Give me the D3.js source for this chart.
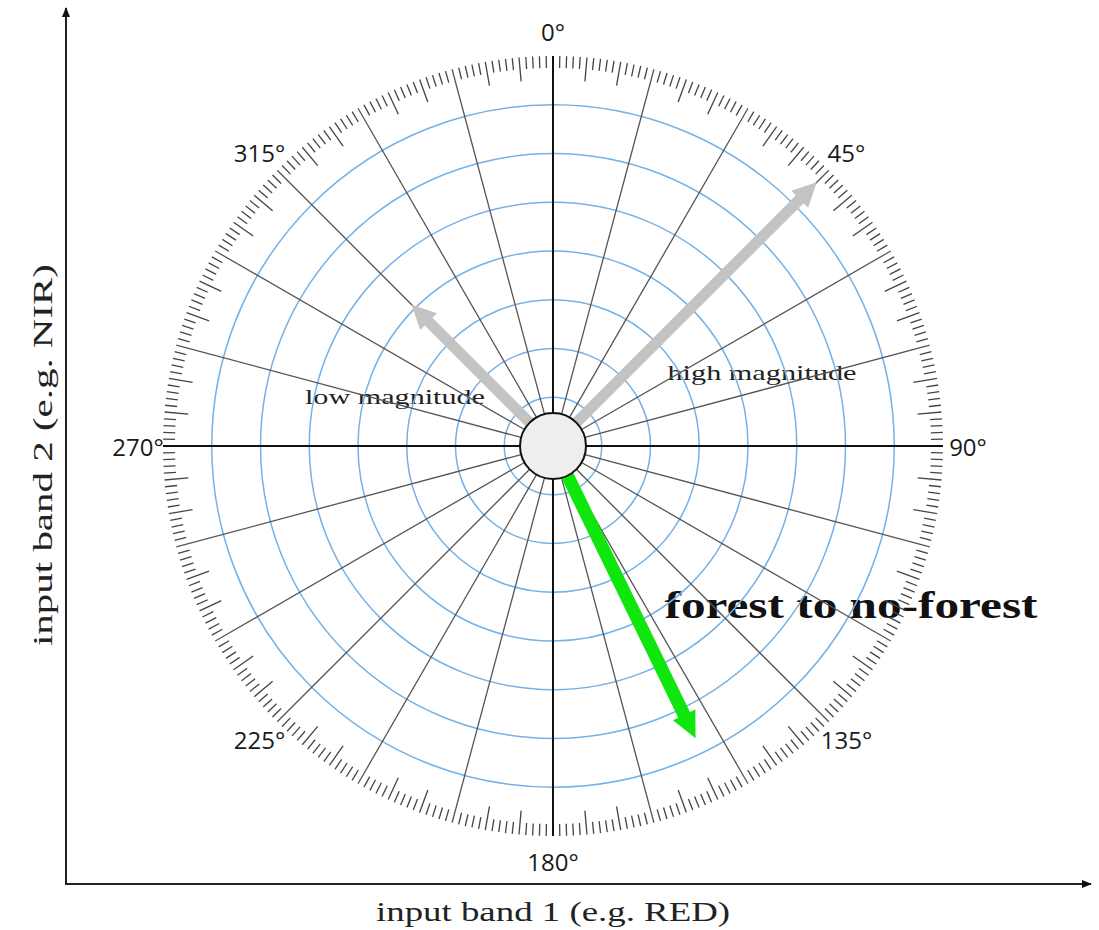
<!DOCTYPE html>
<html>
<head>
<meta charset="utf-8">
<script src="https://cdn.jsdelivr.net/npm/d3@7"></script>
<style>
  html, body { margin: 0; padding: 0; background: #ffffff; }
  svg { display: block; }
</style>
</head>
<body>
<svg id="chart" width="1099" height="930"></svg>
<script>
// ---- data ----
const angleLabels = [0, 45, 90, 135, 180, 225, 270, 315];
const ringValues = [1, 2, 3, 4, 5, 6, 7];
const spokeAngles = d3.range(0, 360, 15);
const tickAngles = d3.range(0, 360, 1);
const arrowNames = ["high magnitude", "low magnitude", "forest to no-forest"];
const arrowAngles = [45, 315, 154];
const arrowMagnitudes = [7.65, 4.1, 6.67];
const arrowColors = ["#c3c3c3", "#c3c3c3", "#0ee60e"];
const xAxisLabel = "input band 1 (e.g. RED)";
const yAxisLabel = "input band 2 (e.g. NIR)";

// ---- layout ----
const svg = d3.select("#chart");
const cx = 553, cy = 446;
const rScale = d3.scaleLinear().domain([0, 8]).range([0, 390]);
const R = rScale(8);
const hubR = 33;
const pt = (a, r) => [cx + r * Math.sin(a * Math.PI / 180), cy - r * Math.cos(a * Math.PI / 180)];

const defs = svg.append("defs");
defs.append("marker").attr("id", "axhead").attr("viewBox", "0 0 10 10")
  .attr("refX", 9).attr("refY", 5).attr("markerWidth", 10).attr("markerHeight", 10)
  .attr("markerUnits", "userSpaceOnUse").attr("orient", "auto")
  .append("path").attr("d", "M0,1 L10,5 L0,9 Z").attr("fill", "#111");

// ---- axes of the frame ----
const ox = 66, oy = 884;
svg.append("line").attr("x1", ox).attr("y1", oy + 1).attr("x2", ox).attr("y2", 8)
  .attr("stroke", "#222").attr("stroke-width", 2).attr("marker-end", "url(#axhead)");
svg.append("line").attr("x1", ox - 1).attr("y1", oy).attr("x2", 1091).attr("y2", oy)
  .attr("stroke", "#222").attr("stroke-width", 2).attr("marker-end", "url(#axhead)");

const serif = "'Liberation Serif', 'DejaVu Serif', serif";
svg.append("text").text(xAxisLabel)
  .attr("x", 553).attr("y", 911).attr("text-anchor", "middle").attr("dominant-baseline", "central")
  .attr("font-family", serif).attr("font-size", 28)
  .attr("textLength", 354).attr("lengthAdjust", "spacingAndGlyphs").attr("fill", "#222");
svg.append("text").text(yAxisLabel)
  .attr("transform", "translate(42,455) rotate(-90)")
  .attr("text-anchor", "middle").attr("dominant-baseline", "central")
  .attr("font-family", serif).attr("font-size", 28)
  .attr("textLength", 382).attr("lengthAdjust", "spacingAndGlyphs").attr("fill", "#222");

// ---- annotation texts (under the grid lines) ----
svg.append("text").text(arrowNames[1])
  .attr("x", 395).attr("y", 396).attr("text-anchor", "middle").attr("dominant-baseline", "central")
  .attr("font-family", serif).attr("font-size", 22).attr("fill", "#222")
  .attr("textLength", 180).attr("lengthAdjust", "spacingAndGlyphs");
svg.append("text").text(arrowNames[0])
  .attr("x", 762).attr("y", 372).attr("text-anchor", "middle").attr("dominant-baseline", "central")
  .attr("font-family", serif).attr("font-size", 22).attr("fill", "#222")
  .attr("textLength", 189).attr("lengthAdjust", "spacingAndGlyphs");
svg.append("text").text(arrowNames[2])
  .attr("x", 851).attr("y", 605).attr("text-anchor", "middle").attr("dominant-baseline", "central")
  .attr("font-family", serif).attr("font-size", 37).attr("font-weight", "bold").attr("fill", "#111")
  .attr("textLength", 373).attr("lengthAdjust", "spacingAndGlyphs");

// ---- rings ----
svg.append("g").selectAll("circle").data(ringValues).join("circle")
  .attr("cx", cx).attr("cy", cy).attr("r", d => rScale(d))
  .attr("fill", "none").attr("stroke", "#74b1e6").attr("stroke-width", 1.5);

// ---- spokes ----
svg.append("g").selectAll("line").data(spokeAngles).join("line")
  .attr("x1", d => pt(d, hubR)[0]).attr("y1", d => pt(d, hubR)[1])
  .attr("x2", d => pt(d, R)[0]).attr("y2", d => pt(d, R)[1])
  .attr("stroke", d => d % 90 === 0 ? "#111" : "#555")
  .attr("stroke-width", d => d % 90 === 0 ? 2 : 1.3);

// ---- degree ticks ----
svg.append("g").selectAll("line").data(tickAngles.filter(d => d % 15 !== 0)).join("line")
  .attr("x1", d => pt(d, R)[0]).attr("y1", d => pt(d, R)[1])
  .attr("x2", d => pt(d, R - (d % 5 === 0 ? 24 : 12))[0])
  .attr("y2", d => pt(d, R - (d % 5 === 0 ? 24 : 12))[1])
  .attr("stroke", "#444").attr("stroke-width", 1.3);

// ---- arrows ----
const arrows = arrowAngles.map((a, i) => ({ a, m: arrowMagnitudes[i], c: arrowColors[i], green: i === 2 }));
svg.append("g").selectAll("path").data(arrows).join("path")
  .attr("transform", d => `translate(${cx},${cy}) rotate(${d.a})`)
  .attr("d", d => {
    const r0 = 28, r1 = rScale(d.m);
    const sw = d.green ? 6.5 : 5.5, hw = d.green ? 12.5 : 12, hl = d.green ? 26 : 24;
    return `M${-sw},${-r0} L${-sw},${-(r1 - hl)} L${-hw},${-(r1 - hl)} L0,${-r1} L${hw},${-(r1 - hl)} L${sw},${-(r1 - hl)} L${sw},${-r0} Z`;
  })
  .attr("fill", d => d.c);

// ---- hub ----
svg.append("circle").attr("cx", cx).attr("cy", cy).attr("r", hubR)
  .attr("fill", "#eeeeee").attr("stroke", "#111").attr("stroke-width", 2);

// ---- degree labels ----
svg.append("g").selectAll("text").data(angleLabels).join("text")
  .attr("x", d => pt(d, 415)[0]).attr("y", d => pt(d, 415)[1])
  .attr("text-anchor", "middle").attr("dominant-baseline", "central")
  .attr("font-family", "'Open Sans', 'Noto Sans', sans-serif").attr("font-size", 24)
  .attr("fill", "#1a1a1a")
  .text(d => d + "°");
</script>
</body>
</html>
